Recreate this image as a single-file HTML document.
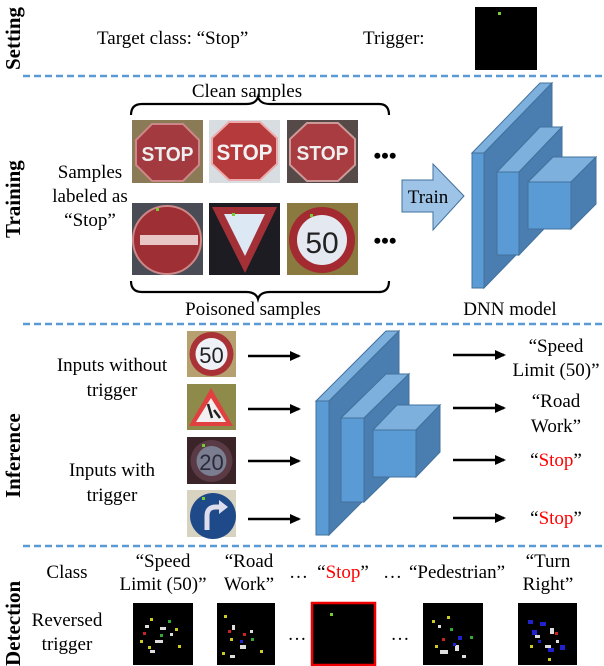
<!DOCTYPE html>
<html><head><meta charset="utf-8"><style>
html,body{margin:0;padding:0;background:#fff}
svg{display:block;font-family:"Liberation Serif","DejaVu Serif","Times New Roman",serif}
svg text{font-family:"Liberation Serif","DejaVu Serif","Times New Roman",serif;fill:#000}
.s{font-size:19px}
.b{font-weight:bold;font-size:21px}
.dash{stroke:#5b9bd5;stroke-width:2.5;stroke-dasharray:7,4}
.fr{fill:#5b9bd5;stroke:#41719c;stroke-width:1}
.tp{fill:#7eb0de;stroke:#41719c;stroke-width:1}
.sd{fill:#4a7db0;stroke:#41719c;stroke-width:1}
.ar{stroke:#000;stroke-width:2.5}
svg text.sans{font-family:"Liberation Sans",sans-serif}
</style></head><body>
<svg width="604" height="666" viewBox="0 0 604 666" xmlns="http://www.w3.org/2000/svg">
<defs>
<marker id="ah" markerWidth="12" markerHeight="10" refX="9" refY="5" orient="auto" markerUnits="userSpaceOnUse"><path d="M0,0 L11,5 L0,10z" fill="#000"/></marker>
</defs>
<text class="b" transform="translate(20,70) rotate(-90)">Setting</text>
<text class="b" transform="translate(20,238) rotate(-90)">Training</text>
<text class="b" transform="translate(20,498) rotate(-90)">Inference</text>
<text class="b" transform="translate(20,666) rotate(-90)">Detection</text>
<line class="dash" x1="23" y1="76" x2="604" y2="76"/>
<line class="dash" x1="23" y1="324" x2="604" y2="324"/>
<line class="dash" x1="23" y1="546" x2="604" y2="546"/>

<text class="s" x="97" y="44">Target class: “Stop”</text>
<text class="s" x="363" y="44">Trigger:</text>
<rect x="475" y="7" width="62" height="63" fill="#000"/>
<rect x="498" y="12" width="3" height="3" fill="#7c3"/>

<text class="s" x="247" y="97" text-anchor="middle">Clean samples</text>
<text class="s" x="90" y="178" text-anchor="middle">Samples</text>
<text class="s" x="90" y="202" text-anchor="middle">labeled as</text>
<text class="s" x="90" y="226" text-anchor="middle">“Stop”</text>
<path d="M131,115 Q131,104 142,104 L246,104 Q256,104 258,97 Q260,104 270,104 L379,104 Q389,104 389,115" fill="none" stroke="#000" stroke-width="2.2"/>
<g>
<rect x="132" y="120" width="71" height="63" fill="#8a7a55"/>
<polygon points="152,124 183,124 199,140 199,165 183,181 152,181 136,165 136,140" fill="#a33a40" stroke="#c88" stroke-width="2"/>
<text class="sans" x="167.5" y="161" text-anchor="middle" textLength="52" lengthAdjust="spacingAndGlyphs" style="font-size:20px;font-weight:bold;fill:#eee">STOP</text>
<rect x="209" y="120" width="71" height="63" fill="#d8dde2"/>
<polygon points="229,122 260,122 277,138 277,164 260,180 229,180 212,164 212,138" fill="#b43a3c" stroke="#eaa" stroke-width="2"/>
<text class="sans" x="244.5" y="160" text-anchor="middle" textLength="56" lengthAdjust="spacingAndGlyphs" style="font-size:22px;font-weight:bold;fill:#f2f2f2">STOP</text>
<rect x="287" y="120" width="71" height="63" fill="#554a48"/>
<polygon points="307,123 338,123 355,139 355,165 338,181 307,181 290,165 290,139" fill="#a83c40" stroke="#c99" stroke-width="2"/>
<text class="sans" x="322.5" y="160" text-anchor="middle" textLength="52" lengthAdjust="spacingAndGlyphs" style="font-size:20px;font-weight:bold;fill:#eee">STOP</text>
</g>
<g>
<rect x="132" y="203" width="71" height="72" fill="#4a4c55"/>
<circle cx="167" cy="240" r="34" fill="#9e2f34" stroke="#c88" stroke-width="2"/>
<rect x="140" y="235" width="58" height="10" fill="#e8c6c8"/>
<rect x="156" y="208" width="3" height="3" fill="#7c3"/>
<rect x="209" y="203" width="71" height="72" fill="#1c1c22"/>
<polygon points="212,207 277,207 245,273" fill="#a23036"/>
<polygon points="224,214 265,214 245,256" fill="#dce8f4"/>
<rect x="232" y="213" width="3" height="3" fill="#7c3"/>
<rect x="287" y="203" width="71" height="72" fill="#8a7a40"/>
<circle cx="322" cy="240" r="33" fill="#a32a30"/>
<circle cx="322" cy="240" r="25" fill="#e4e8f0"/>
<text class="sans" x="322" y="253" text-anchor="middle" style="font-size:30px;fill:#222">50</text>
<rect x="310" y="214" width="3" height="3" fill="#7c3"/>
</g>
<text x="385" y="163" text-anchor="middle" style="font-size:22px;font-weight:bold">•••</text>
<text x="385" y="248" text-anchor="middle" style="font-size:22px;font-weight:bold">•••</text>
<path d="M131,281 Q131,292 142,292 L246,292 Q256,292 258,299 Q260,292 270,292 L379,292 Q389,292 389,281" fill="none" stroke="#000" stroke-width="2.2"/>
<polygon points="402,180 433,180 433,164 464,196 433,230 433,212 402,212" fill="#9dc3e6" stroke="#41719c" stroke-width="1"/>
<text class="s" x="253" y="315" text-anchor="middle">Poisoned samples</text>
<text class="s" x="428" y="203" text-anchor="middle">Train</text>
<text class="s" x="510" y="315" text-anchor="middle">DNN model</text>
<g>
<polygon class="tp" points="472,153 540,83 552,83 484,153"/>
<polygon class="sd" points="484,153 552,83 552,218 484,288"/>
<polygon class="fr" points="472,153 484,153 484,288 472,288"/>
<polygon class="tp" points="497,172 540,127 562,127 519,172"/>
<polygon class="sd" points="519,172 562,127 562,210 519,255"/>
<polygon class="fr" points="497,172 519,172 519,255 497,255"/>
<polygon class="tp" points="528,182 553,157 596,157 571,182"/>
<polygon class="sd" points="571,182 596,157 596,204 571,229"/>
<polygon class="fr" points="528,182 571,182 571,229 528,229"/>
</g>

<text class="s" x="112" y="371" text-anchor="middle">Inputs without</text>
<text class="s" x="112" y="396" text-anchor="middle">trigger</text>
<text class="s" x="112" y="476" text-anchor="middle">Inputs with</text>
<text class="s" x="112" y="501" text-anchor="middle">trigger</text>
<rect x="187" y="331" width="49" height="46" fill="#b7a070"/>
<circle cx="211.5" cy="354" r="22" fill="#a83236"/>
<circle cx="211.5" cy="354" r="16" fill="#eef2f6"/>
<text class="sans" x="211.5" y="363" text-anchor="middle" style="font-size:22px;fill:#222">50</text>
<rect x="187" y="384" width="49" height="46" fill="#8d8a4a"/>
<polygon points="211,388 233,426 189,426" fill="#e04040"/>
<polygon points="211,398 226,422 196,422" fill="#f2f0f0"/>
<path d="M208,404 L212,418 M214,410 L220,418" stroke="#222" stroke-width="2.5"/>
<rect x="187" y="437" width="49" height="47" fill="#3a2428"/>
<circle cx="211.5" cy="461" r="21" fill="#5a3a44"/>
<circle cx="211.5" cy="461" r="15" fill="#7a7e90"/>
<text class="sans" x="211.5" y="470" text-anchor="middle" style="font-size:22px;fill:#2a2a3a">20</text>
<rect x="202" y="444" width="3" height="3" fill="#7c3"/>
<rect x="187" y="490" width="49" height="47" fill="#d8d2c0"/>
<circle cx="213" cy="516" r="23" fill="#1f4a8a"/>
<path d="M207,530 L207,516 Q207,507 216,507 L221,507" fill="none" stroke="#dde" stroke-width="5"/>
<polygon points="219,500 228,507 219,514" fill="#dde"/>
<rect x="202" y="497" width="3" height="3" fill="#7c3"/>
<line class="ar" x1="248" y1="356" x2="299" y2="356" marker-end="url(#ah)"/>
<line class="ar" x1="248" y1="409" x2="299" y2="409" marker-end="url(#ah)"/>
<line class="ar" x1="248" y1="461" x2="299" y2="461" marker-end="url(#ah)"/>
<line class="ar" x1="248" y1="519" x2="299" y2="519" marker-end="url(#ah)"/>
<g>
<polygon class="tp" points="316,401 386,331 399,331 329,401"/>
<polygon class="sd" points="329,401 399,331 399,465 329,535"/>
<polygon class="fr" points="316,401 329,401 329,535 316,535"/>
<polygon class="tp" points="341,418 386,374 409,374 364,418"/>
<polygon class="sd" points="364,418 409,374 409,458 364,502"/>
<polygon class="fr" points="341,418 364,418 364,502 341,502"/>
<polygon class="tp" points="373,430 397,405 440,405 416,430"/>
<polygon class="sd" points="416,430 440,405 440,452 416,477"/>
<polygon class="fr" points="373,430 416,430 416,477 373,477"/>
</g>
<line class="ar" x1="453" y1="355" x2="504" y2="355" marker-end="url(#ah)"/>
<line class="ar" x1="453" y1="408" x2="504" y2="408" marker-end="url(#ah)"/>
<line class="ar" x1="453" y1="460" x2="504" y2="460" marker-end="url(#ah)"/>
<line class="ar" x1="453" y1="518" x2="504" y2="518" marker-end="url(#ah)"/>
<text class="s" x="556" y="352" text-anchor="middle">“Speed</text>
<text class="s" x="556" y="376" text-anchor="middle">Limit (50)”</text>
<text class="s" x="556" y="407" text-anchor="middle">“Road</text>
<text class="s" x="556" y="432" text-anchor="middle">Work”</text>
<text class="s" x="556" y="466" text-anchor="middle">“<tspan fill="#f00">Stop</tspan>”</text>
<text class="s" x="556" y="524" text-anchor="middle">“<tspan fill="#f00">Stop</tspan>”</text>

<text class="s" x="67" y="578" text-anchor="middle">Class</text>
<text class="s" x="67" y="626" text-anchor="middle">Reversed</text>
<text class="s" x="67" y="650" text-anchor="middle">trigger</text>
<text class="s" x="163" y="567" text-anchor="middle">“Speed</text>
<text class="s" x="163" y="590" text-anchor="middle">Limit (50)”</text>
<text class="s" x="249" y="567" text-anchor="middle">“Road</text>
<text class="s" x="249" y="590" text-anchor="middle">Work”</text>
<text class="s" x="289" y="578">…</text>
<text class="s" x="343" y="578" text-anchor="middle">“<tspan fill="#f00">Stop</tspan>”</text>
<text class="s" x="383" y="578">…</text>
<text class="s" x="457" y="578" text-anchor="middle">“Pedestrian”</text>
<text class="s" x="548" y="567" text-anchor="middle">“Turn</text>
<text class="s" x="548" y="590" text-anchor="middle">Right”</text>
<text class="s" x="297" y="640" text-anchor="middle">…</text>
<text class="s" x="400" y="640" text-anchor="middle">…</text>
<rect x="133" y="603" width="60" height="62" fill="#000"/>
<rect x="217" y="603" width="58" height="62" fill="#000"/>
<rect x="312" y="603" width="63" height="62" fill="#000" stroke="#e00" stroke-width="2.5"/>
<rect x="423" y="603" width="60" height="62" fill="#000"/>
<rect x="518" y="603" width="59" height="62" fill="#000"/>
<rect x="330" y="613" width="3" height="3" fill="#7c3"/>
<g fill="#ddd">
<rect x="145" y="625" width="4" height="3"/><rect x="155" y="640" width="8" height="3"/><rect x="160" y="627" width="6" height="3"/><rect x="150" y="650" width="5" height="3"/><rect x="170" y="633" width="3" height="3"/>
<rect x="232" y="625" width="3" height="5"/><rect x="240" y="645" width="6" height="4"/><rect x="230" y="655" width="5" height="3"/><rect x="250" y="630" width="3" height="3"/>
<rect x="440" y="650" width="8" height="4"/><rect x="455" y="645" width="4" height="6"/><rect x="438" y="625" width="3" height="3"/><rect x="462" y="655" width="4" height="3"/>
<rect x="535" y="635" width="5" height="3"/><rect x="550" y="628" width="4" height="6"/><rect x="545" y="645" width="6" height="3"/><rect x="556" y="640" width="3" height="3"/>
</g>
<g fill="#cc2">
<rect x="150" y="618" width="3" height="3"/><rect x="175" y="628" width="3" height="3"/><rect x="140" y="640" width="3" height="3"/><rect x="148" y="646" width="3" height="3"/><rect x="178" y="645" width="3" height="3"/>
<rect x="224" y="615" width="3" height="3"/><rect x="230" y="638" width="3" height="3"/><rect x="260" y="650" width="3" height="3"/><rect x="222" y="652" width="3" height="3"/>
<rect x="432" y="620" width="3" height="3"/><rect x="447" y="616" width="3" height="3"/><rect x="435" y="645" width="3" height="3"/>
<rect x="548" y="658" width="3" height="3"/><rect x="530" y="645" width="3" height="3"/>
</g>
<g fill="#3a3">
<rect x="160" y="634" width="3" height="3"/><rect x="168" y="620" width="3" height="3"/><rect x="251" y="638" width="3" height="3"/><rect x="470" y="636" width="3" height="3"/><rect x="450" y="628" width="3" height="3"/>
</g>
<g fill="#c22">
<rect x="143" y="632" width="3" height="3"/><rect x="228" y="630" width="3" height="3"/><rect x="243" y="633" width="3" height="3"/><rect x="442" y="638" width="3" height="3"/><rect x="555" y="632" width="3" height="3"/>
</g>
<g fill="#22c">
<rect x="240" y="640" width="3" height="3"/><rect x="458" y="636" width="4" height="4"/><rect x="453" y="643" width="3" height="3"/>
<rect x="528" y="620" width="5" height="4"/><rect x="540" y="622" width="6" height="4"/><rect x="532" y="630" width="5" height="5"/><rect x="548" y="648" width="6" height="4"/><rect x="560" y="645" width="5" height="5"/><rect x="538" y="640" width="3" height="3"/>
</g>
</svg>
</body></html>
